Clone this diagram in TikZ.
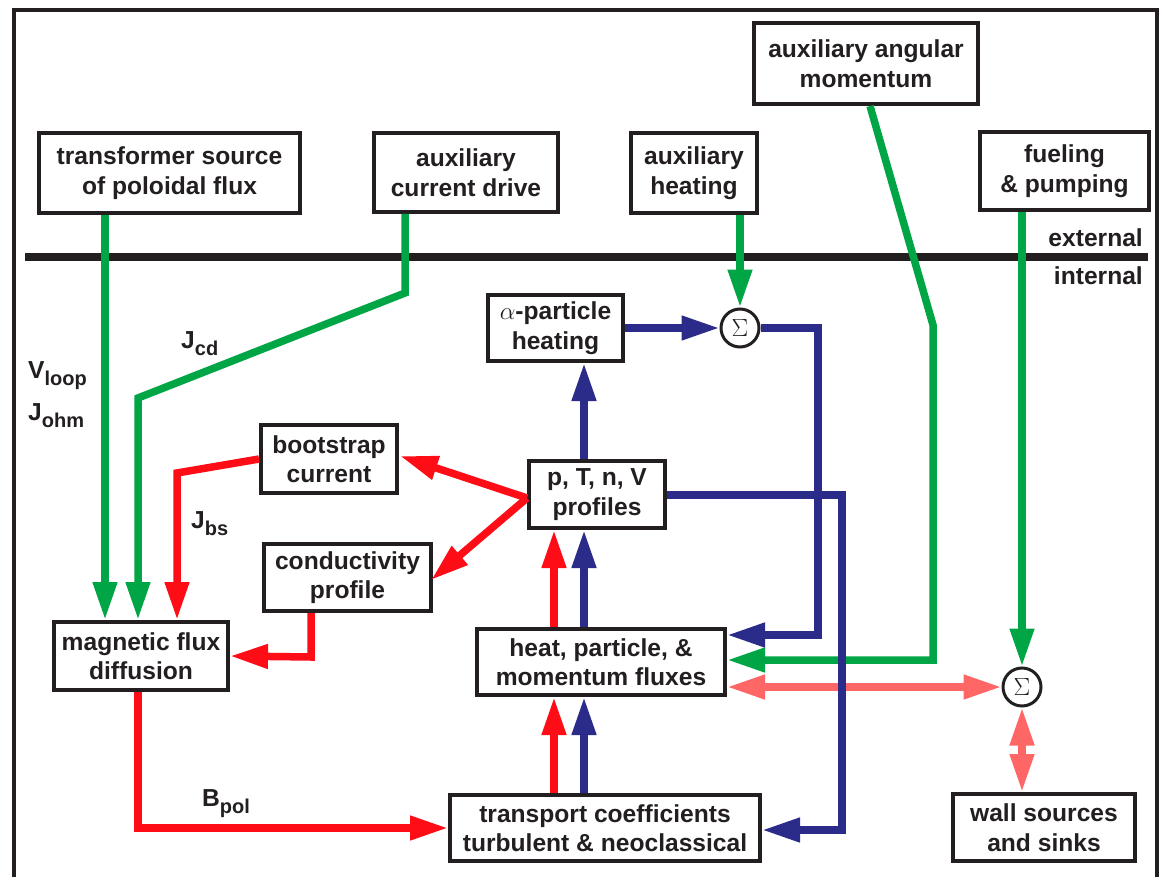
\documentclass[tikz,border=0pt]{standalone}
\usepackage{fontspec}
\setmainfont{Liberation Sans}
\usetikzlibrary{arrows.meta,calc}
\definecolor{cg}{RGB}{0,166,70}
\definecolor{cr}{RGB}{255,13,23}
\definecolor{cb}{RGB}{43,43,137}
\definecolor{cs}{RGB}{255,102,102}
\definecolor{tx}{RGB}{35,31,32}
\begin{document}
\begin{tikzpicture}[x=1pt,y=-1pt,
  box/.style={draw=tx, line width=4pt, fill=white, align=center, inner sep=0pt, text=tx,
    font=\bfseries\fontsize{24.6}{29.5}\selectfont},
  sig/.style={circle, draw=tx, line width=3pt, fill=white, minimum size=38pt, inner sep=0pt,
    text=tx, font=\fontsize{24}{24}\selectfont},
  lab/.style={anchor=west, inner sep=0pt, text=tx, font=\bfseries\fontsize{24.6}{24.6}\selectfont},
  conn/.style={line width=7.5pt, -{Triangle[length=38pt,width=23pt]}},
  gr/.style={conn, draw=cg},
  rd/.style={conn, draw=cr},
  bl/.style={conn, draw=cb},
  sa/.style={line width=7.5pt, draw=cs, {Triangle[length=38pt,width=23pt]}-{Triangle[length=38pt,width=23pt]}}
]
\useasboundingbox (0,0) rectangle (1161,877);
\fill[white] (0,0) rectangle (1161,877);
% frame and separator
\draw[tx, line width=4.5pt] (14,885) -- (14,10) -- (1157,10) -- (1157,885);
\draw[tx, line width=8pt] (25,257) -- (1148,257);
\node[lab, anchor=east] (ext) at (1143,238) {external};
\node[lab, anchor=east] (int) at (1143,276) {internal};

% helper positions
\coordinate (xa) at (105,0);
\coordinate (xb) at (405,0);
\coordinate (xc) at (138,0);
\coordinate (xd) at (177,0);
\coordinate (xe) at (311,0);
\coordinate (xr) at (554,0);
\coordinate (xu) at (584,0);
\coordinate (xm) at (870,0);
\coordinate (ya) at (0,635);
\coordinate (yg) at (0,660);
\coordinate (ys) at (0,687);
\coordinate (yp) at (0,498);
\coordinate (yq) at (0,495);
\coordinate (yt) at (0,830);

% external boxes
\node[box, minimum width=261pt, minimum height=80pt] (trans) at (169.5,173) {transformer source\\of poloidal flux};
\node[box, minimum width=184pt, minimum height=79pt] (acd) at (466,172.5) {auxiliary\\current drive};
\node[box, minimum width=126pt, minimum height=80pt] (aheat) at (694,173) {auxiliary\\heating};
\node[box, minimum width=224pt, minimum height=81pt] (aam) at (866,63.5) {auxiliary angular\\momentum};
\node[box, minimum width=169pt, minimum height=78pt] (fuel) at (1064.5,171) {fueling\\\& pumping};

% internal boxes
\node[box, minimum width=135pt, minimum height=66pt] (alpha) at (555.5,328) {{\mdseries$\alpha$}-particle\\heating};
\node[box, minimum width=136pt, minimum height=68pt] (boot) at (329,459) {bootstrap\\current};
\node[box, minimum width=167pt, minimum height=67pt] (cond) at (347.5,577.5) {conductivity\\profile};
\node[box, minimum width=136pt, minimum height=67pt] (prof) at (597,494.5) {p, T, n, V\\profiles};
\node[box, minimum width=174pt, minimum height=68pt] (mfd) at (141,656) {magnetic flux\\diffusion};
\node[box, minimum width=248pt, minimum height=66pt] (heat) at (601,662) {heat, particle, \&\\momentum fluxes};
\node[box, minimum width=310pt, minimum height=66pt] (tc) at (605,828) {transport coefficients\\turbulent \& neoclassical};
\node[box, minimum width=182pt, minimum height=67pt] (wall) at (1044,827.5) {wall sources\\and sinks};
\node[sig] (sig1) at (740,328) {$\Sigma$};
\node[sig] (sig2) at (1022,687) {$\Sigma$};

% labels
\node[lab] (vloop) at (28,376) {V\raisebox{-7pt}{\fontsize{20}{20}\selectfont loop}};
\node[lab] (johm) at (28,416) {J\raisebox{-7pt}{\fontsize{20}{20}\selectfont ohm}};
\node[lab] (jcd) at (181,344) {J\raisebox{-7pt}{\fontsize{20}{20}\selectfont cd}};
\node[lab] (jbs) at (191,524) {J\raisebox{-7pt}{\fontsize{20}{20}\selectfont bs}};
\node[lab] (bpol) at (202,804) {B\raisebox{-7pt}{\fontsize{20}{20}\selectfont pol}};

% green connectors
\draw[gr] (xa |- trans.south) -- (xa |- mfd.north);
\draw[gr] (xb |- acd.south) -- (405,293) -- (138,398) -- (xc |- mfd.north);
\draw[gr] (sig1.north |- aheat.south) -- (sig1.north);
\draw[gr] (xm |- aam.south) -- (933,325) -- (933,660) -- (heat.east |- yg);
\draw[gr] (sig2.north |- fuel.south) -- (sig2.north);

% salmon connectors
\draw[sa] (heat.east |- ys) -- (sig2.west);
\draw[sa] (sig2.south) -- (sig2.south |- wall.north);

% red connectors
\draw[rd] (boot.west) -- (177,473) -- (xd |- mfd.north);
\draw[rd] (prof.west |- yp) -- (400,456);
\draw[rd] (prof.west |- yp) -- (431,580);
\draw[rd] (xe |- cond.south) -- (311,657) -- (mfd.east);
\draw[rd] (xc |- mfd.south) -- (138,828) -- (tc.west);
\draw[rd] (xr |- tc.north) -- (xr |- heat.south);
\draw[rd] (xr |- heat.north) -- (xr |- prof.south);

% blue connectors
\draw[bl] (xu |- tc.north) -- (xu |- heat.south);
\draw[bl] (xu |- heat.north) -- (xu |- prof.south);
\draw[bl] (xu |- prof.north) -- (xu |- alpha.south);
\draw[bl] (alpha.east) -- (sig1.west);
\draw[bl] (sig1.east) -- (818,328) -- (818,635) -- (heat.east |- ya);
\draw[bl] (prof.east |- yq) -- (842,495) -- (842,830) -- (tc.east |- yt);
\end{tikzpicture}
\end{document}
